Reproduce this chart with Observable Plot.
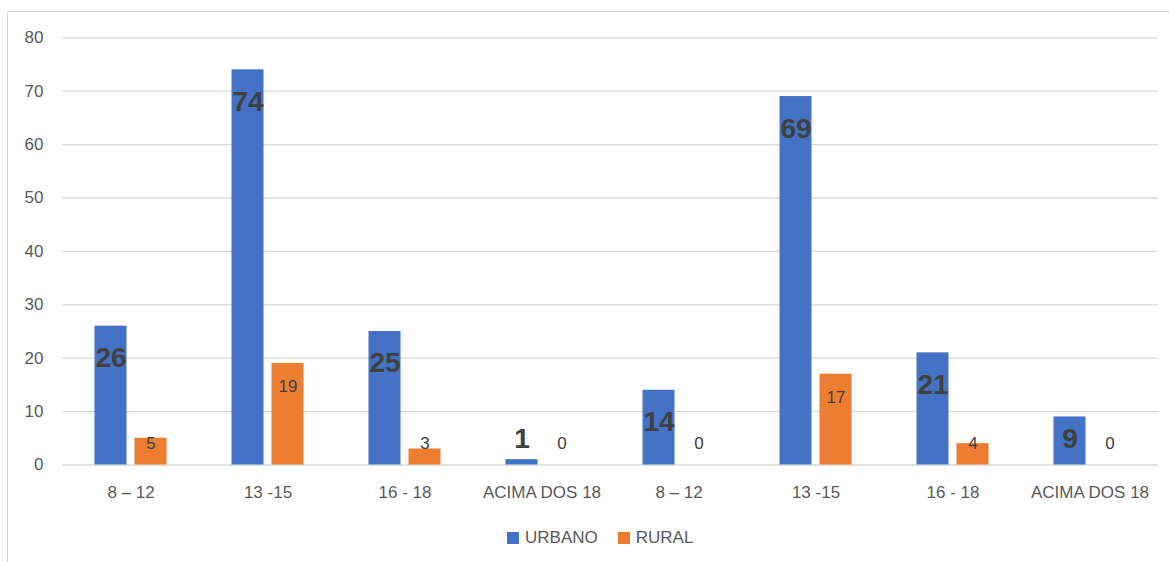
<!DOCTYPE html>
<html>
<head>
<meta charset="utf-8">
<script src="https://cdn.jsdelivr.net/npm/d3@7"></script>
<script src="https://cdn.jsdelivr.net/npm/@observablehq/plot@0.6"></script>
<style>
  html, body { margin: 0; padding: 0; background: #fff; }
  body { width: 1169px; height: 562px; position: relative; overflow: hidden; font-family: "Liberation Sans", Arial, sans-serif; }
  #frame { position: absolute; left: 7px; top: 11px; width: 1162px; height: 551px; border-top: 1px solid #d9d9d9; border-left: 1px solid #d9d9d9; }
  #chart { position: absolute; left: 0; top: 0; }
  #legend { position: absolute; left: 507px; top: 528px; display: flex; align-items: center; font-size: 17px; color: #595959; }
  .sw { width: 12px; height: 12px; display: inline-block; margin-right: 6px; }
  .item { display: flex; align-items: center; margin-right: 20px; }
</style>
</head>
<body>
<div id="frame"><div id="chart"></div></div>
<div id="legend"></div>
<script>
const categories = ["8 – 12", "13 -15", "16 - 18", "ACIMA DOS 18", "8 – 12", "13 -15", "16 - 18", "ACIMA DOS 18"];
const series = ["URBANO", "RURAL"];
const urbano = [26, 74, 25, 1, 14, 69, 21, 9];
const rural = [5, 19, 3, 0, 0, 17, 4, 0];
const colors = ["#4472C4", "#ED7D31"];
const yTicks = [0, 10, 20, 30, 40, 50, 60, 70, 80];

const idx = d3.range(categories.length);
const urbData = idx.map(i => ({cat: i, series: "URBANO", value: urbano[i]}));
const rurData = idx.map(i => ({cat: i, series: "RURAL", value: rural[i]}));
const data = urbData.concat(rurData);

const chart = Plot.plot({
  width: 1161,
  height: 500,
  marginLeft: 53.5,
  marginRight: 11.5,
  marginTop: 25.3,
  marginBottom: 47.5,
  style: {fontFamily: "Liberation Sans, Arial, sans-serif", fontSize: "17px", color: "#595959", background: "transparent"},
  fx: {domain: idx, padding: 0, axis: null},
  x: {domain: series, paddingInner: 0.2, paddingOuter: 0.8125, axis: null},
  y: {domain: [0, 80], axis: null},
  color: {domain: series, range: colors},
  marks: [
    Plot.gridY(yTicks, {stroke: "#d9d9d9", strokeOpacity: 1, strokeWidth: 1.3}),
    Plot.axisY(yTicks, {tickSize: 0, tickPadding: 19, label: null, fontSize: 17}),
    Plot.axisFx({tickSize: 0, tickPadding: 21, label: null, anchor: "bottom", tickFormat: i => categories[i], fontSize: 17}),
    Plot.barY(data, {fx: "cat", x: "series", y: "value", fill: "series"}),
    Plot.text(urbData, {fx: "cat", x: "series", y: d => Math.max(d.value, 10.8), dy: 32, text: d => String(d.value), fill: "#404040", fontSize: 28, fontWeight: "bold"}),
    Plot.text(rurData, {fx: "cat", x: "series", y: d => Math.max(d.value, 8.4), dy: 23, text: d => String(d.value), fill: "#404040", fontSize: 17})
  ]
});
document.getElementById("chart").appendChild(chart);

const legend = document.getElementById("legend");
series.forEach((s, i) => {
  const item = document.createElement("div");
  item.className = "item";
  const sw = document.createElement("span");
  sw.className = "sw";
  sw.style.background = colors[i];
  item.appendChild(sw);
  const t = document.createElement("span");
  t.textContent = s;
  item.appendChild(t);
  legend.appendChild(item);
});
</script>
</body>
</html>
